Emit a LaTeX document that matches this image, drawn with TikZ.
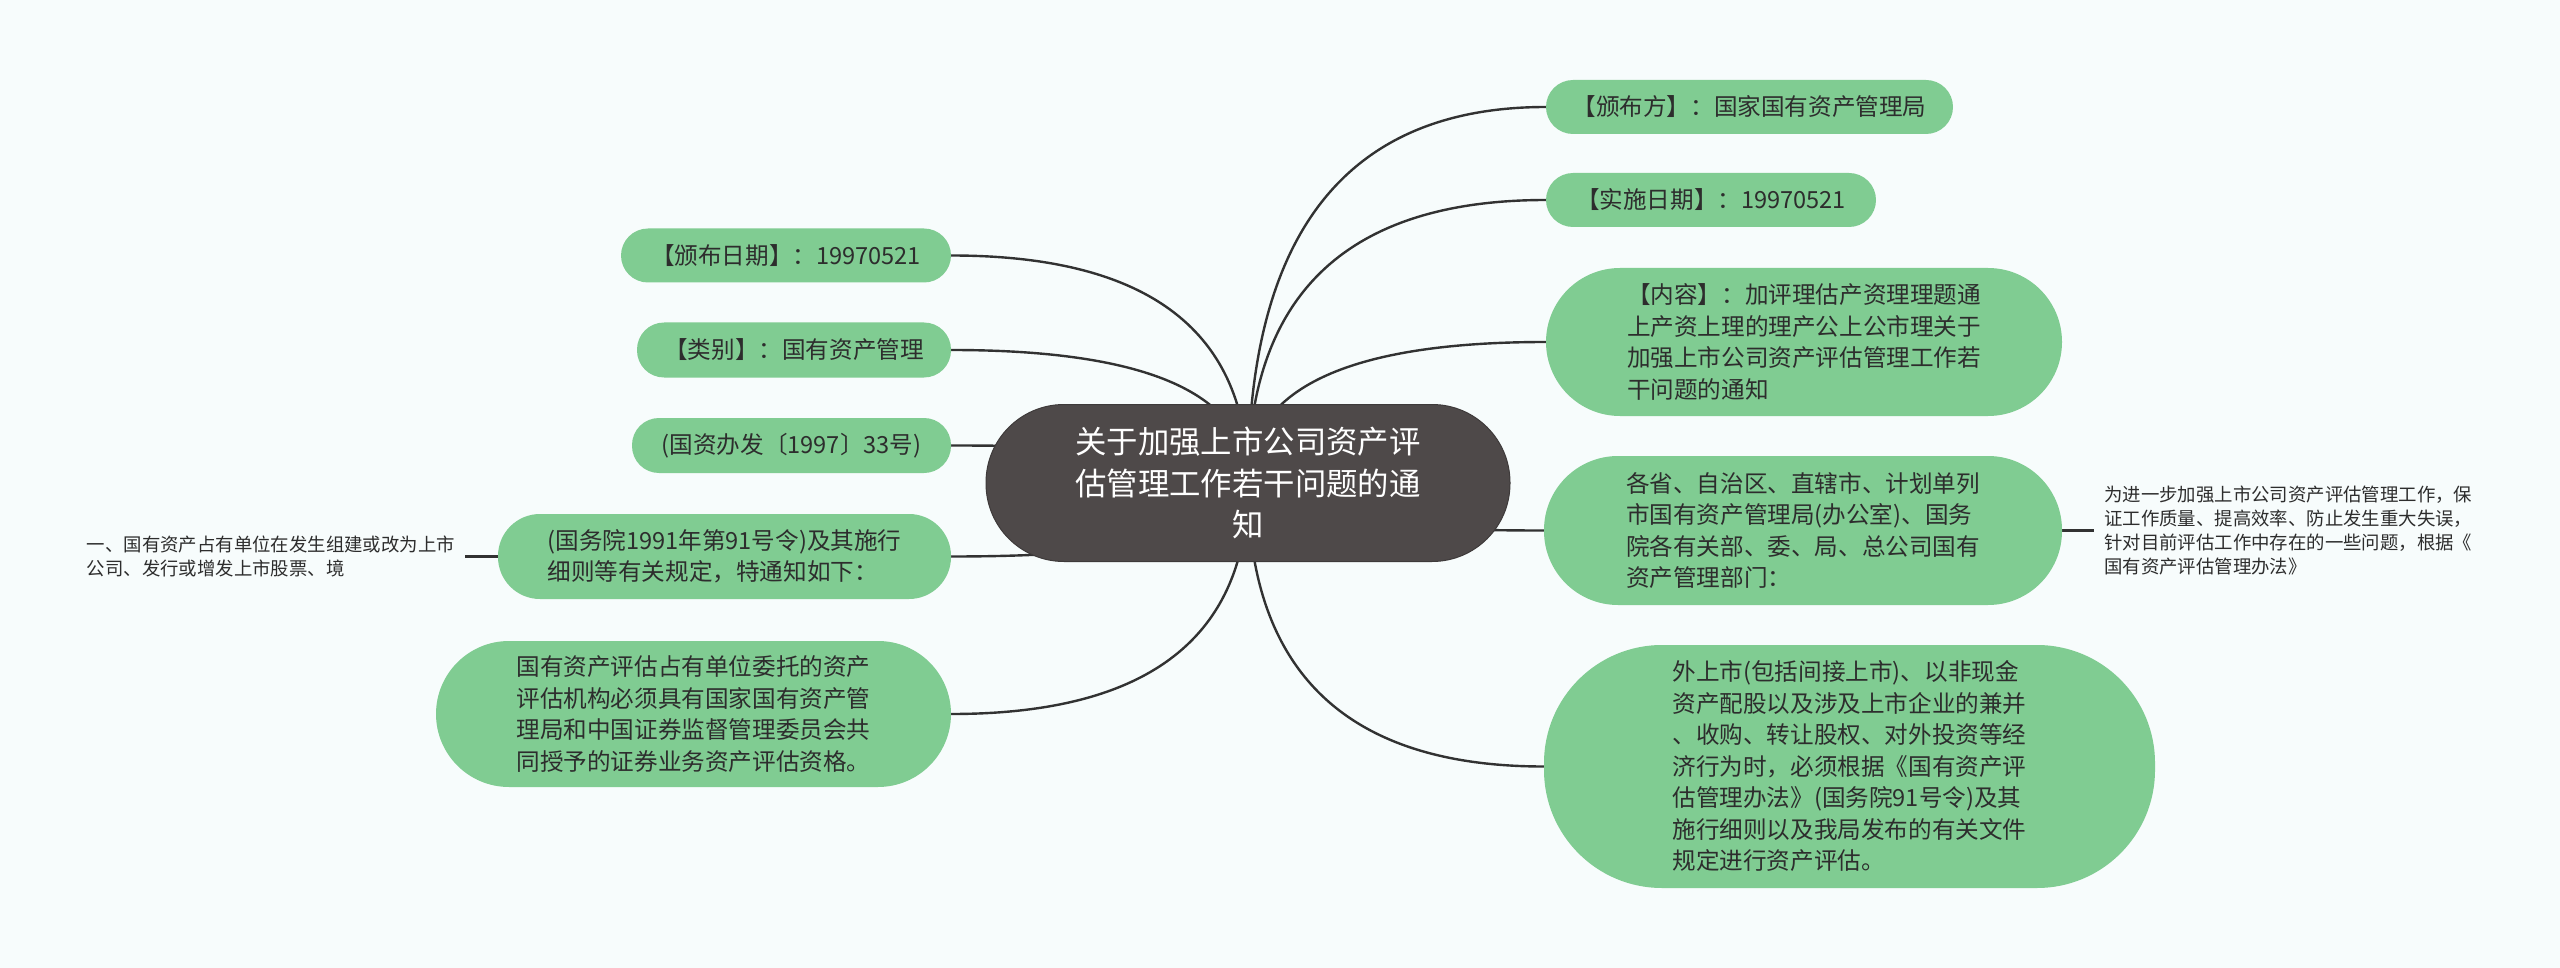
\documentclass[tikz,border=0pt]{standalone}
\usepackage{fontspec}
\setmainfont{Noto Sans CJK SC}
\usetikzlibrary{calc,backgrounds}
\definecolor{bgc}{RGB}{247,252,252}
\definecolor{leaf}{RGB}{128,204,146}
\definecolor{hub}{RGB}{78,73,73}
\definecolor{ink}{RGB}{45,45,45}
\definecolor{wire}{RGB}{50,50,50}
\tikzset{
  leafbox/.style={rectangle, fill=leaf, text=ink, inner sep=0pt, align=left,
    font=\fontsize{23.6}{31.5}\selectfont},
  hubbox/.style={rectangle, fill=hub, draw=hub!80!black, line width=1pt, text=white,
    inner sep=0pt, align=center, font=\fontsize{31.4}{41.7}\selectfont},
  notebox/.style={inner xsep=10pt, inner ysep=0pt, align=left, text=ink,
    font=\fontsize{18.4}{24}\selectfont},
  wirestyle/.style={draw=wire, line width=2.4pt},
}
\newcommand\hubwire[2]{%
  \coordinate (k) at (main.center |- #1.#2);
  \draw[wirestyle] (main.center) .. controls ($(main.center)!2/3!(k)$) and ($(#1.#2)!2/3!(k)$) .. (#1.#2);
}
\begin{document}
\begin{tikzpicture}[x=1pt,y=-1pt]
\useasboundingbox (0,0) rectangle (2560,968);

% central topic
\node[hubbox, minimum width=524pt, minimum height=157pt, rounded corners=78pt] (main) at (1248,483)
  {关于加强上市公司资产评\\估管理工作若干问题的通\\知};

% right side
\node[leafbox, minimum width=407pt, minimum height=54pt, rounded corners=27pt] (pub) at (1749.5,107)
  {【颁布方】：国家国有资产管理局};
\node[leafbox, minimum width=330pt, minimum height=54pt, rounded corners=27pt] (impl) at (1711,200)
  {【实施日期】：19970521};
\node[leafbox, minimum width=516pt, minimum height=148pt, rounded corners=74pt] (content) at (1804,342)
  {【内容】：加评理估产资理理题通\\上产资上理的理产公上公市理关于\\加强上市公司资产评估管理工作若\\干问题的通知};
\node[leafbox, minimum width=518pt, minimum height=149pt, rounded corners=74pt] (prov) at (1803,530.5)
  {各省、自治区、直辖市、计划单列\\市国有资产管理局(办公室)、国务\\院各有关部、委、局、总公司国有\\资产管理部门：};
\node[leafbox, minimum width=611pt, minimum height=243pt, rounded corners=118pt] (ext) at (1849.5,766.5)
  {外上市(包括间接上市)、以非现金\\资产配股以及涉及上市企业的兼并\\、收购、转让股权、对外投资等经\\济行为时，必须根据《国有资产评\\估管理办法》(国务院91号令)及其\\施行细则以及我局发布的有关文件\\规定进行资产评估。};
\node[notebox, anchor=west] (rtext) at (2094,530.5)
  {为进一步加强上市公司资产评估管理工作，保\\证工作质量、提高效率、防止发生重大失误，\\针对目前评估工作中存在的一些问题，根据《\\国有资产评估管理办法》};

% left side
\node[leafbox, minimum width=330pt, minimum height=54pt, rounded corners=27pt] (date) at (786,255.5)
  {【颁布日期】：19970521};
\node[leafbox, minimum width=314pt, minimum height=55pt, rounded corners=27pt] (cat) at (794,350)
  {【类别】：国有资产管理};
\node[leafbox, minimum width=319pt, minimum height=55pt, rounded corners=27pt] (doc) at (791.5,445.5)
  {(国资办发〔1997〕33号)};
\node[leafbox, minimum width=453pt, minimum height=85pt, rounded corners=42pt] (law) at (724.5,556.5)
  {(国务院1991年第91号令)及其施行\\细则等有关规定，特通知如下：};
\node[leafbox, minimum width=515pt, minimum height=146pt, rounded corners=73pt] (inst) at (693.5,714)
  {国有资产评估占有单位委托的资产\\评估机构必须具有国家国有资产管\\理局和中国证券监督管理委员会共\\同授予的证券业务资产评估资格。};
\node[notebox, anchor=east] (ltext) at (465,556.5)
  {一、国有资产占有单位在发生组建或改为上市\\公司、发行或增发上市股票、境};

\begin{scope}[on background layer]
  \fill[bgc] (0,0) rectangle (2560,968);
  \hubwire{pub}{west}
  \hubwire{impl}{west}
  \hubwire{content}{west}
  \hubwire{prov}{west}
  \hubwire{ext}{west}
  \hubwire{date}{east}
  \hubwire{cat}{east}
  \hubwire{doc}{east}
  \hubwire{law}{east}
  \hubwire{inst}{east}
  \draw[wirestyle] (prov.east) -- (prov.east -| rtext.west);
  \draw[wirestyle] (law.west) -- (law.west -| ltext.east);
\end{scope}
\end{tikzpicture}
\end{document}
